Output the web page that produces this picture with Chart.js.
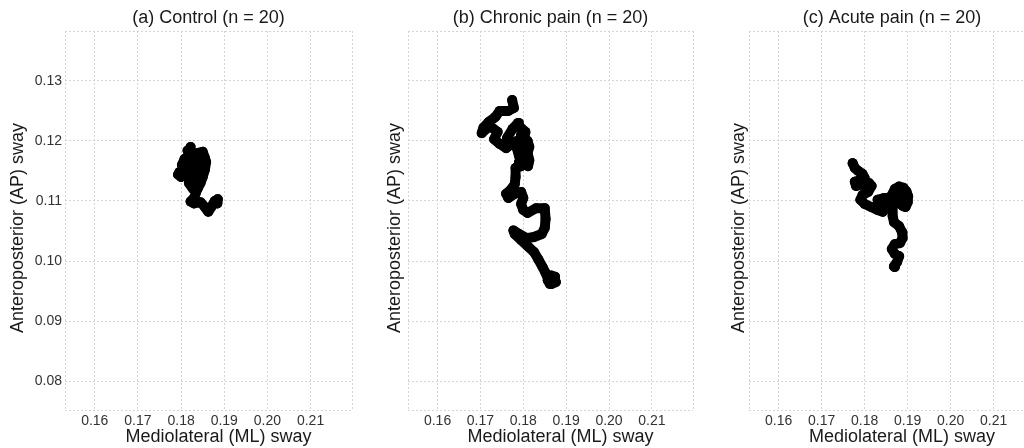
<!DOCTYPE html>
<html>
<head>
<meta charset="utf-8">
<script src="https://cdn.jsdelivr.net/npm/chart.js@4.4.1/dist/chart.umd.min.js"></script>
<style>
  html, body { margin: 0; padding: 0; background: #fff; overflow: hidden; width: 1024px; height: 448px; }
  .panel { position: absolute; top: 0; height: 448px; }
</style>
</head>
<body>
<div class="panel" style="left:0;width:360px"><canvas id="chartA"></canvas></div>
<div class="panel" style="left:360px;width:340px"><canvas id="chartB"></canvas></div>
<div class="panel" style="left:700px;width:340px"><canvas id="chartC"></canvas></div>
<script>
// tick labels
var xTickValues = [0.16, 0.17, 0.18, 0.19, 0.20, 0.21];
var yTickValues = [0.08, 0.09, 0.10, 0.11, 0.12, 0.13];
var xMin = 0.1531, xMax = 0.2196;
var yMin = 0.0752, yMax = 0.1383;

// (a) control - centre of pressure path
var controlX = [0.1822, 0.1818, 0.1808, 0.1802, 0.1812, 0.1796, 0.1793, 0.1800, 0.1812, 0.1825,
  0.1833, 0.1840, 0.1850, 0.1855, 0.1858, 0.1855, 0.1850, 0.1845, 0.1838, 0.1830,
  0.1822, 0.1815, 0.1820, 0.1828, 0.1815, 0.1825, 0.1810, 0.1825, 0.1840, 0.1850,
  0.1845, 0.1830, 0.1818, 0.1828, 0.1835, 0.1845, 0.1840, 0.1835, 0.1830, 0.1822,
  0.1830, 0.1845, 0.1855, 0.1863, 0.1870, 0.1878, 0.1885, 0.1884];
var controlY = [0.1190, 0.1175, 0.1170, 0.1160, 0.1150, 0.1148, 0.1144, 0.1140, 0.1146, 0.1158,
  0.1170, 0.1180, 0.1182, 0.1172, 0.1165, 0.1152, 0.1140, 0.1130, 0.1120, 0.1128,
  0.1138, 0.1155, 0.1168, 0.1180, 0.1184, 0.1172, 0.1162, 0.1150, 0.1160, 0.1168,
  0.1142, 0.1145, 0.1130, 0.1120, 0.1135, 0.1150, 0.1135, 0.1115, 0.1105, 0.1099,
  0.1096, 0.1098, 0.1090, 0.1082, 0.1090, 0.1100, 0.1103, 0.1096];

// (b) chronic pain
var chronicX = [0.1774, 0.1778, 0.1765, 0.1745, 0.1735, 0.1720, 0.1707, 0.1703, 0.1710, 0.1722,
  0.1740, 0.1732, 0.1745, 0.1760, 0.1772, 0.1762, 0.1775, 0.1788, 0.1790, 0.1805,
  0.1800, 0.1785, 0.1795, 0.1810, 0.1805, 0.1790, 0.1800, 0.1812, 0.1795,
  0.1810, 0.1814, 0.1810, 0.1814, 0.1811, 0.1800, 0.1790, 0.1785, 0.1795, 0.1805,
  0.1795, 0.1782, 0.1782, 0.1780, 0.1770, 0.1760, 0.1765, 0.1780, 0.1795, 0.1800,
  0.1795, 0.1800, 0.1810, 0.1830, 0.1850, 0.1852, 0.1850, 0.1843, 0.1825, 0.1808,
  0.1790, 0.1777, 0.1780, 0.1795, 0.1810, 0.1825, 0.1835, 0.1845, 0.1852, 0.1858,
  0.1866, 0.1876, 0.1874, 0.1865, 0.1857, 0.1862];
var chronicY = [0.1268, 0.1255, 0.1250, 0.1250, 0.1240, 0.1232, 0.1222, 0.1213, 0.1218, 0.1225,
  0.1215, 0.1203, 0.1195, 0.1188, 0.1195, 0.1205, 0.1220, 0.1230, 0.1225, 0.1215,
  0.1195, 0.1200, 0.1185, 0.1185, 0.1170, 0.1165, 0.1160, 0.1162, 0.1210,
  0.1200, 0.1190, 0.1180, 0.1168, 0.1158, 0.1165, 0.1175, 0.1188, 0.1180, 0.1170,
  0.1158, 0.1155, 0.1140, 0.1128, 0.1118, 0.1112, 0.1105, 0.1112, 0.1115, 0.1105,
  0.1095, 0.1085, 0.1080, 0.1088, 0.1088, 0.1070, 0.1055, 0.1045, 0.1040, 0.1038,
  0.1045, 0.1051, 0.1045, 0.1035, 0.1025, 0.1015, 0.1003, 0.0990, 0.0980, 0.0970,
  0.0962, 0.0965, 0.0974, 0.0976, 0.0968, 0.0962];

// (c) acute pain
var acuteX = [0.1772, 0.1777, 0.1785, 0.1795, 0.1800, 0.1790, 0.1777, 0.1780, 0.1795, 0.1810,
  0.1816, 0.1808, 0.1795, 0.1790, 0.1800, 0.1815, 0.1830, 0.1842, 0.1848, 0.1850,
  0.1838, 0.1830, 0.1845, 0.1858, 0.1865, 0.1870, 0.1880, 0.1890, 0.1897, 0.1901,
  0.1900, 0.1895, 0.1888, 0.1878, 0.1885, 0.1892, 0.1880, 0.1888, 0.1896, 0.1885,
  0.1872, 0.1865, 0.1865, 0.1868, 0.1880, 0.1887, 0.1888, 0.1882, 0.1870, 0.1863,
  0.1870, 0.1880, 0.1875, 0.1868, 0.1870];
var acuteY = [0.1163, 0.1155, 0.1150, 0.1145, 0.1138, 0.1135, 0.1132, 0.1125, 0.1128, 0.1130,
  0.1125, 0.1115, 0.1110, 0.1102, 0.1095, 0.1090, 0.1085, 0.1082, 0.1090, 0.1100,
  0.1098, 0.1102, 0.1105, 0.1105, 0.1112, 0.1120, 0.1124, 0.1122, 0.1116, 0.1108,
  0.1098, 0.1090, 0.1092, 0.1100, 0.1110, 0.1105, 0.1115, 0.1118, 0.1100, 0.1095,
  0.1105, 0.1090, 0.1075, 0.1065, 0.1058, 0.1048, 0.1038, 0.1030, 0.1028, 0.1020,
  0.1012, 0.1008, 0.0998, 0.0991, 0.0990];

Chart.defaults.font.family = '"Liberation Sans", Arial, sans-serif';

function toPoints(xs, ys) {
  return xs.map(function (x, i) { return { x: x, y: ys[i] }; });
}

function makePanel(id, title, xs, ys, yWidth, yTitlePad, rightPad, showYLabels) {
  new Chart(document.getElementById(id), {
    type: 'scatter',
    data: {
      datasets: [{
        data: toPoints(xs, ys),
        showLine: true,
        borderColor: '#000',
        borderWidth: 10,
        borderJoinStyle: 'round',
        borderCapStyle: 'round',
        pointRadius: 5,
        pointBackgroundColor: '#000',
        pointBorderWidth: 0,
        pointHoverRadius: 5
      }]
    },
    options: {
      responsive: true,
      maintainAspectRatio: false,
      animation: false,
      layout: { padding: { left: 0, right: rightPad, top: 0, bottom: 0 } },
      plugins: {
        legend: { display: false },
        tooltip: { enabled: false },
        title: {
          display: true,
          text: title,
          fullSize: false,
          color: '#1a1a1a',
          font: { size: 18, weight: 'normal' },
          padding: { top: 7, bottom: 2.4 }
        }
      },
      scales: {
        x: {
          type: 'linear',
          min: xMin,
          max: xMax,
          afterBuildTicks: function (s) {
            s.ticks = [xMin].concat(xTickValues, [xMax]).map(function (v) { return { value: v }; });
          },
          afterFit: function (s) { s.height = 38; },
          ticks: {
            callback: function (v) { return xTickValues.indexOf(v) >= 0 ? v.toFixed(2) : ''; },
            color: '#333',
            font: { size: 14 },
            padding: 3,
            maxRotation: 0,
            autoSkip: false
          },
          grid: { color: '#d4d4d4', drawTicks: false },
          border: { display: false, dash: [2, 2] },
          title: {
            display: true,
            text: '    Mediolateral (ML) sway',
            color: '#1a1a1a',
            font: { size: 18 },
            padding: { top: 0, bottom: 0 }
          }
        },
        y: {
          type: 'linear',
          min: yMin,
          max: yMax,
          afterBuildTicks: function (s) {
            s.ticks = [yMin].concat(yTickValues, [yMax]).map(function (v) { return { value: v }; });
          },
          afterFit: function (s) { s.width = yWidth; },
          ticks: {
            display: showYLabels,
            callback: function (v) { return yTickValues.indexOf(v) >= 0 ? v.toFixed(2) : ''; },
            color: '#333',
            font: { size: 14 },
            padding: 3,
            autoSkip: false
          },
          grid: { color: '#d4d4d4', drawTicks: false },
          border: { display: false, dash: [2, 2] },
          title: {
            display: true,
            text: 'Anteroposterior (AP) sway   ',
            color: '#1a1a1a',
            font: { size: 18 },
            padding: { top: yTitlePad, bottom: 0 }
          }
        }
      }
    }
  });
}

makePanel('chartA', '(a) Control (n = 20)', controlX, controlY, 65, 7.7, 8, true);
makePanel('chartB', '(b) Chronic pain (n = 20)', chronicX, chronicY, 48, 24, 7, false);
makePanel('chartC', '(c) Acute pain (n = 20)', acuteX, acuteY, 49, 28, 4, false);
</script>
</body>
</html>
